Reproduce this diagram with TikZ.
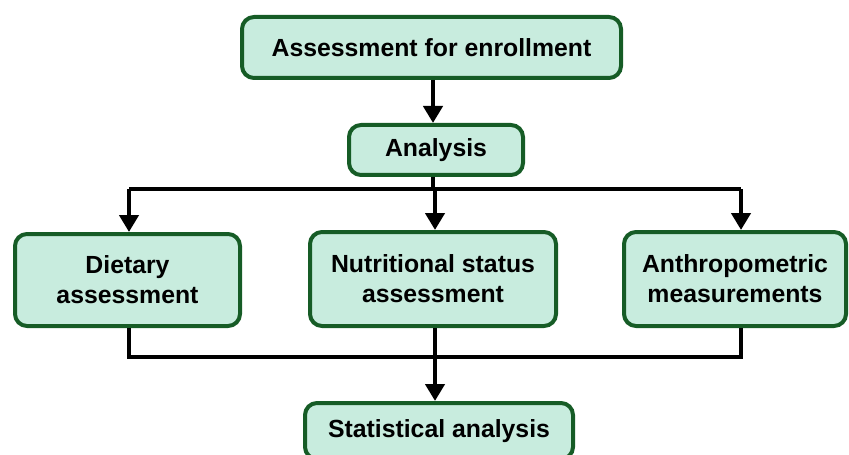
\documentclass[tikz,border=0pt]{standalone}
\usepackage{fontspec}
\setmainfont{Liberation Sans}
\usepackage{tikz}
\usetikzlibrary{arrows.meta,positioning}
\definecolor{boxfill}{RGB}{200,236,222}
\definecolor{boxline}{RGB}{22,92,38}

\begin{document}
\begin{tikzpicture}
[x=0.5pt,y=-0.5pt]
\tikzset{
	stepbox/.style = {draw=boxline, fill=boxfill, line width=2pt, rounded corners=6pt, align=center, inner sep=0,
		font=\fontsize{12.4}{15}\selectfont\bfseries},
	link/.style = {line width=2.3pt, -{Triangle[width=9.5pt,length=8.5pt]}},
	plain/.style = {line width=2.3pt}
}
\useasboundingbox (0,0) rectangle (849,454);

\node(enroll) [stepbox, minimum width=189.5pt, minimum height=30.5pt] at (431.5,47.5) {Assessment for enrollment};
\node(analysis) [stepbox, minimum width=87pt, minimum height=25pt] at (436,150) {Analysis};
\node(diet) [stepbox, minimum width=112.5pt, minimum height=46pt] at (127.5,280) {Dietary\\assessment};
\node(nutri) [stepbox, minimum width=123pt, minimum height=47pt] at (433,279) {Nutritional status\\assessment};
\node(anthro) [stepbox, minimum width=111pt, minimum height=47pt] at (735,279) {Anthropometric\\measurements};
\node(stats) [stepbox, minimum width=134pt, minimum height=28pt] at (439,431) {Statistical analysis};

% branch and join points
\coordinate (split) at (433,189);
\coordinate (d1) at (129,189);
\coordinate (n1) at (435,189);
\coordinate (a1) at (741,189);
\coordinate (join) at (435,357);

\draw[link] (split |- enroll.south) -- (split |- analysis.north);
\draw[plain] (split |- analysis.south) -- (split);
\draw[plain] (d1) -- (a1);
\draw[link] (d1) -- (d1 |- diet.north);
\draw[link] (n1) -- (n1 |- nutri.north);
\draw[link] (a1) -- (a1 |- anthro.north);

\draw[plain] (d1 |- diet.south) -- (d1 |- join) -- (a1 |- join) -- (a1 |- anthro.south);
\draw[link] (n1 |- nutri.south) -- (n1 |- stats.north);

\end{tikzpicture}
\end{document}
